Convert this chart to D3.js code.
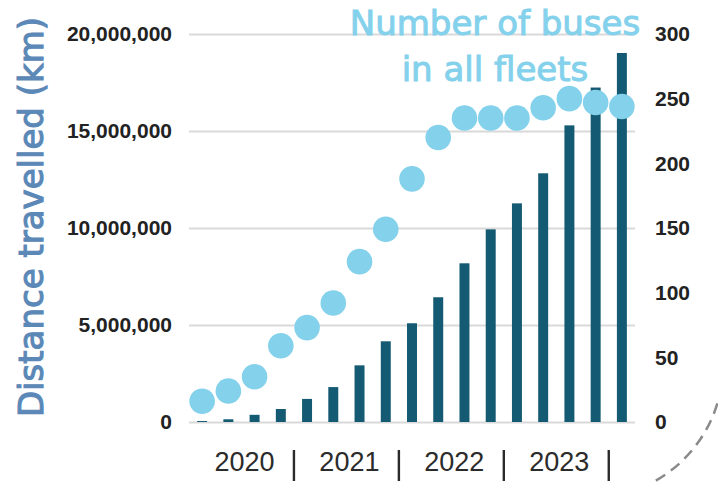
<!DOCTYPE html>
<html>
<head>
<meta charset="utf-8">
<script src="https://cdn.jsdelivr.net/npm/d3@7"></script>
<style>
  body { margin: 0; background: #fff; }
  svg { display: block; }
</style>
</head>
<body>
<svg id="chart" width="718" height="483"></svg>
<script>
// quarterly data, 2020 Q1 .. 2024 Q1
const quarters = ['2020 Q1', '2020 Q2', '2020 Q3', '2020 Q4',
  '2021 Q1', '2021 Q2', '2021 Q3', '2021 Q4',
  '2022 Q1', '2022 Q2', '2022 Q3', '2022 Q4',
  '2023 Q1', '2023 Q2', '2023 Q3', '2023 Q4', '2024 Q1'];
const distanceKm = [50000, 140000, 370000, 670000, 1190000, 1800000, 2920000, 4160000,
  5090000, 6430000, 8180000, 9930000, 11270000, 12820000, 15290000, 17240000, 19020000];
const buses = [16, 24, 35, 59, 73, 92, 124, 149, 188, 220, 235, 235, 235, 243, 250, 247, 244];
const years = ['2020', '2021', '2022', '2023'];
const leftTicks = [0, 5000000, 10000000, 15000000, 20000000];
const rightTicks = [0, 50, 100, 150, 200, 250, 300];

function drawChart() {
  const plotLeft = 189;
  const plotRight = 635;
  const plotTop = 34;
  const plotBottom = 422;

  const barColor = '#135a72';
  const dotColor = '#84d1ec';

  const svg = d3.select('svg#chart');

  const x = d3.scaleBand()
    .domain(quarters)
    .range([plotLeft, plotRight])
    .paddingInner(0.62)
    .paddingOuter(0.31);

  const yLeft = d3.scaleLinear().domain([0, 20000000]).range([plotBottom, plotTop]);
  const yRight = d3.scaleLinear().domain([0, 300]).range([plotBottom, plotTop]);

  // gridlines
  const grid = svg.append('g')
    .attr('transform', `translate(${plotLeft},0)`)
    .call(d3.axisLeft(yLeft).tickValues(leftTicks).tickSize(-(plotRight - plotLeft)).tickFormat(''));
  grid.select('.domain').remove();
  grid.selectAll('line').attr('stroke', '#d9d9d9').attr('stroke-width', 2);

  // left axis labels
  const leftAxis = svg.append('g')
    .attr('transform', `translate(${plotLeft},0)`)
    .call(d3.axisLeft(yLeft).tickValues(leftTicks).tickSize(0).tickPadding(17).tickFormat(d3.format(',')));
  leftAxis.select('.domain').remove();
  leftAxis.selectAll('text')
    .attr('font-family', 'Liberation Sans, Arial, sans-serif')
    .attr('font-size', '21px')
    .attr('font-weight', 'bold')
    .attr('fill', '#222');

  // right axis labels
  const rightAxis = svg.append('g')
    .attr('transform', `translate(${plotRight},0)`)
    .call(d3.axisRight(yRight).tickValues(rightTicks).tickSize(0).tickPadding(20));
  rightAxis.select('.domain').remove();
  rightAxis.selectAll('text')
    .attr('font-family', 'Liberation Sans, Arial, sans-serif')
    .attr('font-size', '21px')
    .attr('font-weight', 'bold')
    .attr('fill', '#222');

  // bars
  svg.append('g').selectAll('rect.bar')
    .data(quarters)
    .enter()
    .append('rect')
    .attr('class', 'bar')
    .attr('x', (d) => x(d))
    .attr('width', x.bandwidth())
    .attr('y', (d, i) => yLeft(distanceKm[i]))
    .attr('height', (d, i) => yLeft(0) - yLeft(distanceKm[i]))
    .attr('fill', barColor);

  // title for the bus series (drawn over the gridline)
  const busTitle = svg.append('text')
    .attr('text-anchor', 'middle')
    .attr('font-family', 'DejaVu Sans, Verdana, sans-serif')
    .attr('font-size', '34px')
    .attr('fill', dotColor)
    .attr('stroke', dotColor)
    .attr('stroke-width', 1);
  busTitle.append('tspan').attr('x', 495).attr('y', 35).text('Number of buses');
  busTitle.append('tspan').attr('x', 495).attr('y', 81).text('in all fleets');

  // dots
  svg.append('g').selectAll('circle.dot')
    .data(quarters)
    .enter()
    .append('circle')
    .attr('class', 'dot')
    .attr('cx', (d) => x(d) + x.bandwidth() / 2)
    .attr('cy', (d, i) => yRight(buses[i]))
    .attr('r', 12.8)
    .attr('fill', dotColor);

  // left axis title
  svg.append('text')
    .attr('transform', 'translate(43,217) rotate(-90)')
    .attr('text-anchor', 'middle')
    .attr('font-family', 'DejaVu Sans, Verdana, sans-serif')
    .attr('font-size', '34px')
    .attr('fill', '#5b88b7')
    .attr('stroke', '#5b88b7')
    .attr('stroke-width', 1.1)
    .text('Distance travelled (km)');

  // year labels and separators
  const step = x.step();
  const gap = step * x.paddingInner() / 2;
  const yearG = svg.append('g');
  years.forEach((yr, k) => {
    const first = quarters[k * 4];
    const last = quarters[k * 4 + 3];
    const cx = (x(first) + x(last) + x.bandwidth()) / 2;
    yearG.append('text')
      .attr('x', cx + 3)
      .attr('y', 471)
      .attr('text-anchor', 'middle')
      .attr('font-family', 'Liberation Sans, Arial, sans-serif')
      .attr('font-size', '27px')
      .attr('fill', '#2b2b2b')
      .text(yr);
    const sx = x(last) + x.bandwidth() + gap;
    yearG.append('line')
      .attr('x1', sx).attr('x2', sx)
      .attr('y1', 450).attr('y2', 481)
      .attr('stroke', '#2b2b2b')
      .attr('stroke-width', 2.4);
  });

  // dashed decoration arc, bottom right
  const arcPath = d3.path();
  arcPath.arc(590, 365, 133, Math.PI * 0.05, Math.PI * 0.45);
  svg.append('path')
    .attr('d', arcPath.toString())
    .attr('fill', 'none')
    .attr('stroke', '#8a8a8a')
    .attr('stroke-width', 2.5)
    .attr('stroke-dasharray', '11,7');
}

window.addEventListener('load', drawChart);
</script>
</body>
</html>
